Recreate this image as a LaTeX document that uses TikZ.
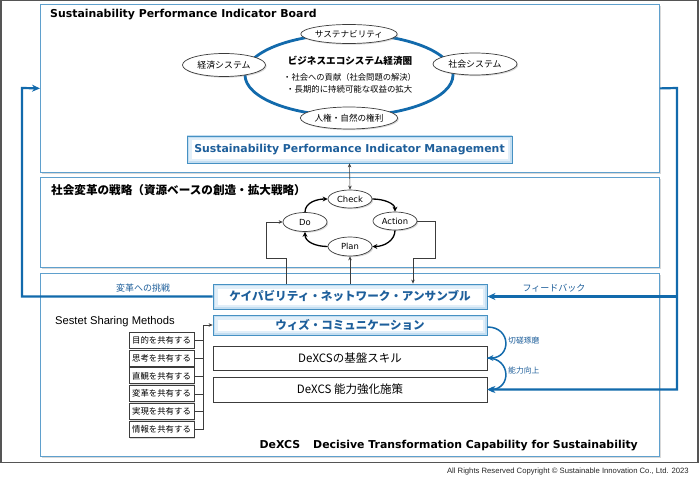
\documentclass[tikz,border=0pt]{standalone}
\usepackage{fontspec}
\setmainfont{DejaVu Sans}
\newfontfamily\jp{Noto Sans CJK JP}
\newfontfamily\arial{Liberation Sans}
\usetikzlibrary{shapes.geometric,shadows,arrows.meta}
\definecolor{lineblue}{RGB}{18,106,172}
\definecolor{panelblue}{RGB}{95,160,205}
\definecolor{boxblue}{RGB}{70,145,195}
\definecolor{textblue}{RGB}{30,95,155}
\definecolor{glowA}{RGB}{226,239,249}
\definecolor{glowB}{RGB}{196,222,241}
\definecolor{framegray}{RGB}{85,85,85}
\definecolor{conngray}{RGB}{60,60,60}
\newcommand\myfs[1]{\fontsize{#1pt}{#1pt}\selectfont}
\tikzset{
  shad/.style={drop shadow={opacity=0.3, shadow xshift=1.2pt, shadow yshift=-1.2pt}},
  panel/.style={draw=panelblue, line width=0.8pt, fill=white, anchor=north west, inner sep=0, minimum width=619pt, shad},
  bluebox/.style={rectangle, draw=boxblue, line width=0.8pt, fill=white, inner sep=0, shad,
    text=textblue, minimum width=274pt,
    path picture={\draw[line width=9pt, glowA] (path picture bounding box.south west) rectangle (path picture bounding box.north east);
                  \draw[line width=4.5pt, glowB] (path picture bounding box.south west) rectangle (path picture bounding box.north east);}},
  whitebox/.style={rectangle, draw=conngray, line width=0.8pt, fill=white, inner sep=0, shad, minimum width=274pt, font=\jp\myfs{11.5}},
  ell/.style={ellipse, draw=conngray, line width=0.7pt, fill=white, inner sep=0, shad},
  sbox/.style={rectangle, draw=conngray, line width=0.7pt, fill=white, inner sep=0, minimum width=65pt, minimum height=16pt, shad, font=\jp\myfs{8.4}},
  conn/.style={draw=conngray, line width=0.6pt},
  tipS/.style={-{Stealth[length=4pt,width=3.5pt]}},
  pdca/.style={draw=black, line width=1.3pt, -{Stealth[length=5pt,width=5pt]}},
  bigline/.style={draw=lineblue, line width=2.2pt},
  bigtip/.style={-{Stealth[length=8pt,width=7pt]}},
  arcline/.style={draw=lineblue, line width=1.5pt, -{Stealth[length=6pt,width=6pt]}},
  bluelabel/.style={text=textblue, font=\jp\myfs{9}, inner sep=0},
  title/.style={font=\bfseries\myfs{10.9}, inner sep=0, anchor=west},
}
\begin{document}
\begin{tikzpicture}[x=1pt,y=-1pt]
\useasboundingbox (0,0) rectangle (700,481);
\draw[framegray, line width=1.5pt] (0.75,0.75) rectangle (698,462.5);

% panels
\node[panel, minimum height=168pt] (board) at (40,4) {};
\node[panel, minimum height=90pt] (strat) at (40,177) {};
\node[panel, minimum height=183pt] (dexcs) at (40,273) {};

% titles
\node[title] (boardtitle) at (50,15) {Sustainability Performance Indicator Board};
\node[title, font=\jp\bfseries\myfs{11.6}] (strattitle) at (51,190) {社会変革の戦略（資源ベースの創造・拡大戦略）};
\node[title, anchor=east] (dexcstitle) at (638,446) {DeXCS\hspace{1.2em}Decisive Transformation Capability for Sustainability};

% business eco system
\node[ellipse, draw=lineblue, line width=2.8pt, minimum width=208pt, minimum height=82pt] (eco) at (349,75) {};
\node[ell, minimum width=85pt, minimum height=19pt, font=\jp\myfs{8.6}] (sust) at (349,34) {サステナビリティ};
\node[ell, minimum width=83pt, minimum height=23pt, font=\jp\myfs{8.9}] (keizai) at (224,65) {経済システム};
\node[ell, minimum width=84pt, minimum height=22pt, font=\jp\myfs{8.9}] (shakai) at (475,64) {社会システム};
\node[ell, minimum width=85pt, minimum height=22pt, font=\jp\myfs{8.6}] (jinken) at (349,118) {人権・自然の権利};
\node[font=\jp\bfseries\myfs{9.6}, inner sep=0] (ecotitle) at (350,61) {ビジネスエコシステム経済圏};
\node[font=\jp\myfs{8.3}, inner sep=0, anchor=west] (eco1) at (283,77.5) {・社会への貢献（社会問題の解決）};
\node[font=\jp\myfs{8.4}, inner sep=0, anchor=west] (eco2) at (286,89.5) {・長期的に持続可能な収益の拡大};

% SPI management
\node[bluebox, minimum width=325pt, minimum height=27pt, font=\bfseries\myfs{10.9}] (spim) at (349.5,149.5) {Sustainability Performance Indicator Management};

% PDCA
\node[ell, minimum width=44pt, minimum height=18pt, font=\myfs{8.4}] (check) at (350,199) {Check};
\node[ell, minimum width=44pt, minimum height=19pt, font=\myfs{8.4}] (do) at (305,222) {Do};
\node[ell, minimum width=44pt, minimum height=18pt, font=\myfs{8.4}] (action) at (395,221) {Action};
\node[ell, minimum width=44pt, minimum height=19pt, font=\myfs{8.4}] (plan) at (350,246.5) {Plan};
\draw[pdca] (do.north) .. controls +(0,-10) and +(-10,0) .. (check.west);
\draw[pdca] (check.east) .. controls +(12,0) and +(0,-8) .. (action.north);
\draw[pdca] (action.south) .. controls +(0,10) and +(12,0) .. (plan.east);
\draw[pdca] (plan.west) .. controls +(-12,0) and +(0,10) .. (do.south);
\draw[conn, {Stealth[length=4pt,width=3.5pt]}-{Stealth[length=4pt,width=3.5pt]}] (spim.south) -- (check.north);

% capability etc.
\node[bluebox, minimum height=25pt, font=\jp\bfseries\myfs{11.6}] (cap) at (350,296.5) {ケイパビリティ・ネットワーク・アンサンブル};
\node[bluebox, minimum height=20pt, font=\jp\bfseries\myfs{11.5}] (wiz) at (350,325) {ウィズ・コミュニケーション};
\node[whitebox, minimum height=24pt] (base) at (350,358) {DeXCSの基盤スキル};
\node[whitebox, minimum height=25pt] (enh) at (350,389.5) {DeXCS 能力強化施策};

\draw[conn, tipS] ([xshift=-64pt]cap.north) |- (266,258) |- (do.west);
\draw[conn, tipS] (cap.north -| plan.south) -- (plan.south);
\draw[conn, tipS] (action.east) -| (435,258) -| ([xshift=63pt]cap.north);

% feedback loops
\coordinate (lcorner) at (22,88);
\coordinate (rcorner) at (677,88);
\draw[bigline, bigtip] (cap.west) -| (lcorner) -- (board.west);
\draw[bigline, bigtip] (board.east) -- (rcorner) |- (enh.east);
\draw[bigline, bigtip] (rcorner |- cap.east) -- (cap.east);
\node[bluelabel] (chall) at (143,288) {変革への挑戦};
\node[bluelabel] (fb) at (554,288) {フィードバック};

% arcs
\draw[arcline] ([yshift=-2pt]wiz.east) .. controls +(24,0) and +(24,0) .. (base.east);
\draw[arcline] (base.east) .. controls +(24,0) and +(24,0) .. (enh.east);
\node[bluelabel, font=\jp\myfs{7.8}, anchor=west] (sessa) at (508,340.5) {切磋琢磨};
\node[bluelabel, font=\jp\myfs{7.8}, anchor=west] (noryoku) at (508,371) {能力向上};

% sestet sharing
\node[font=\arial\myfs{11.2}, inner sep=0, anchor=west] (sestet) at (55,322) {Sestet Sharing Methods};
\node[sbox] (s1) at (161.5,340) {目的を共有する};
\node[sbox] (s2) at (161.5,358) {思考を共有する};
\node[sbox] (s3) at (161.5,375.8) {直観を共有する};
\node[sbox] (s4) at (161.5,393.8) {変革を共有する};
\node[sbox] (s5) at (161.5,411.6) {実現を共有する};
\node[sbox] (s6) at (161.5,429.5) {情報を共有する};
\coordinate (bustop) at (203,325);
\draw[conn, tipS] (s6.east) -| (bustop) -- (wiz.west);
\draw[conn] (s1.east) -- (s1.east -| bustop);
\draw[conn] (s2.east) -- (s2.east -| bustop);
\draw[conn] (s3.east) -- (s3.east -| bustop);
\draw[conn] (s4.east) -- (s4.east -| bustop);
\draw[conn] (s5.east) -- (s5.east -| bustop);

% copyright
\node[font=\arial\myfs{7.7}, inner sep=0, anchor=east, text=black!85] (copy) at (689,472) {All Rights Reserved Copyright © Sustainable Innovation Co., Ltd. 2023};
\end{tikzpicture}
\end{document}
